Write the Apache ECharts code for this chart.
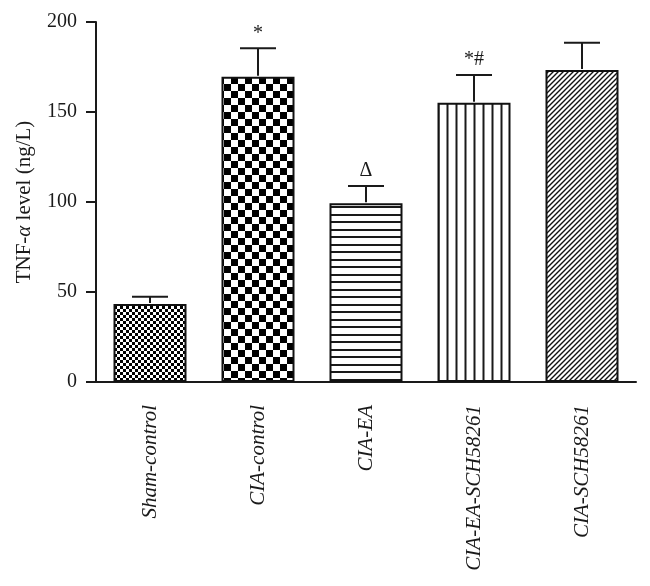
<!DOCTYPE html>
<html>
<head>
<meta charset="utf-8">
<script src="https://cdn.jsdelivr.net/npm/echarts@6/dist/echarts.min.js"></script>
<style>
html,body{margin:0;padding:0;background:#fff;}
#chart{width:650px;height:586px;}
</style>
</head>
<body>
<div id="chart"></div>
<script>
// ---- data ----
const categories = ['Sham-control', 'CIA-control', 'CIA-EA', 'CIA-EA-SCH58261', 'CIA-SCH58261'];
const means = [43.3, 169.6, 99.3, 155.2, 173.3];
const errors = [4.1, 15.8, 9.6, 15.4, 15.2];
const marks = ['', '*', 'Δ', '*#', ''];
const yMin = 0, yMax = 200, yStep = 50;

// ---- pattern helpers ----
function makeCanvas(w, h) {
  const c = document.createElement('canvas');
  c.width = w; c.height = h;
  const ctx = c.getContext('2d');
  ctx.fillStyle = '#fff';
  ctx.fillRect(0, 0, w, h);
  return [c, ctx];
}
function checker(cell) {
  const [c, ctx] = makeCanvas(cell * 2, cell * 2);
  ctx.fillStyle = '#000';
  ctx.fillRect(0, 0, cell, cell);
  ctx.fillRect(cell, cell, cell, cell);
  return c;
}
function hLines() {
  const [c, ctx] = makeCanvas(8, 15);
  ctx.fillStyle = '#1a1a1a';
  ctx.fillRect(0, 4, 8, 2);
  ctx.fillRect(0, 11, 8, 2);
  return c;
}
function vLines() {
  const [c, ctx] = makeCanvas(9, 8);
  ctx.fillStyle = '#1a1a1a';
  ctx.fillRect(5.5, 0, 2, 8);
  return c;
}
function diag(n) {
  const [c, ctx] = makeCanvas(n, n);
  ctx.strokeStyle = '#111';
  ctx.lineWidth = 1.4;
  ctx.beginPath();
  ctx.moveTo(-1, n + 1); ctx.lineTo(n + 1, -1);
  ctx.moveTo(-1, 1); ctx.lineTo(1, -1);
  ctx.moveTo(n - 1, n + 1); ctx.lineTo(n + 1, n - 1);
  ctx.stroke();
  return c;
}
const patterns = [checker(3), checker(7), hLines(), vLines(), diag(5)];

const barData = means.map((v, i) => ({
  value: v,
  itemStyle: {
    color: { image: patterns[i], repeat: 'repeat' },
    borderColor: '#111',
    borderWidth: 2
  }
}));
const errData = means.map((v, i) => [i, v, errors[i], i]);

const serif = 'Liberation Serif, Times New Roman, serif';
const chart = echarts.init(document.getElementById('chart'), null, { renderer: 'canvas' });
chart.setOption({
  animation: false,
  backgroundColor: '#fff',
  grid: { left: 96, right: 14, top: 22, bottom: 204, containLabel: false },
  xAxis: {
    type: 'category',
    data: categories,
    axisLine: { lineStyle: { color: '#1a1a1a', width: 2 } },
    axisTick: { alignWithLabel: true, length: 10, lineStyle: { color: '#1a1a1a', width: 2 } },
    axisLabel: {
      rotate: 90, margin: 23, color: '#1a1a1a',
      fontFamily: serif, fontStyle: 'italic', fontSize: 21
    }
  },
  yAxis: {
    type: 'value', min: yMin, max: yMax, interval: yStep,
    splitLine: { show: false },
    axisLine: { show: true, lineStyle: { color: '#1a1a1a', width: 2 } },
    axisTick: { show: true, length: 10, lineStyle: { color: '#1a1a1a', width: 2 } },
    axisLabel: { margin: 19, color: '#1a1a1a', fontFamily: serif, fontSize: 20 },
    name: 'TNF-{i|α} level (ng/L)',
    nameLocation: 'middle',
    nameGap: 61,
    nameTextStyle: {
      color: '#1a1a1a', fontFamily: serif, fontSize: 21,
      rich: { i: { fontFamily: serif, fontStyle: 'italic', fontSize: 21, color: '#1a1a1a' } }
    }
  },
  series: [
    {
      type: 'bar',
      data: barData,
      barWidth: 73,
      z: 2
    },
    {
      type: 'custom',
      data: errData,
      z: 3,
      renderItem: function (params, api) {
        const idx = api.value(0);
        const m = api.value(1);
        const e = api.value(2);
        const top = api.coord([idx, m]);
        const cap = api.coord([idx, m + e]);
        const half = 18;
        const children = [
          { type: 'line', shape: { x1: top[0], y1: top[1] - 1, x2: cap[0], y2: cap[1] }, style: { stroke: '#1a1a1a', lineWidth: 2 } },
          { type: 'line', shape: { x1: cap[0] - half, y1: cap[1], x2: cap[0] + half, y2: cap[1] }, style: { stroke: '#1a1a1a', lineWidth: 2 } }
        ];
        const mk = marks[api.value(3)];
        if (mk) {
          children.push({
            type: 'text',
            style: {
              text: mk, x: cap[0], y: cap[1] - 5,
              align: 'center', verticalAlign: 'bottom',
              fill: '#1a1a1a', font: '20px ' + serif
            }
          });
        }
        return { type: 'group', children: children };
      }
    }
  ]
});
</script>
</body>
</html>
